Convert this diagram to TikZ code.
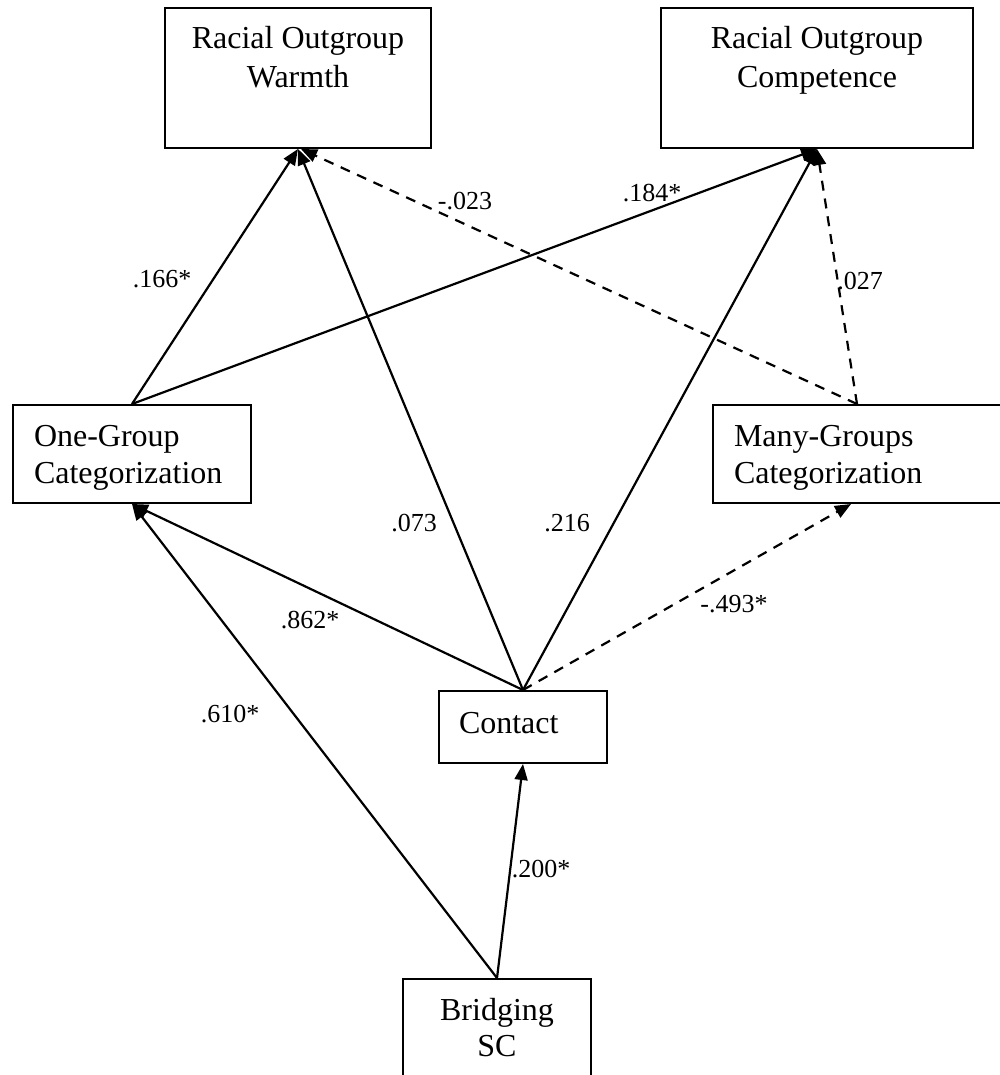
\documentclass[tikz,border=0pt]{standalone}
\usepackage{fontspec}
\setmainfont{Liberation Serif}
\usetikzlibrary{arrows.meta,calc}
\newcommand{\boxfont}{\fontsize{16}{18.5}\selectfont}
\newcommand{\tallfont}{\fontsize{16}{19.5}\selectfont}
\newcommand{\coeffont}{\fontsize{13}{15}\selectfont}

\begin{document}
\begin{tikzpicture}[x=0.5pt, y=-0.5pt,
  var/.style={draw, line width=1pt, anchor=north west, inner sep=0pt, font=\boxfont},
  cvar/.style={var, align=flush center},
  lvar/.style={var, align=flush left, inner xsep=10.5pt},
  effect/.style={-{Triangle[length=8pt,width=6.5pt]}, line width=1.1pt},
  neffect/.style={effect, dash pattern=on 5pt off 4pt},
  coef/.style={font=\coeffont, inner sep=0pt}]
  \useasboundingbox (0,0) rectangle (1000,1075);

  % Outcome boxes
  \node[cvar, font=\tallfont, text width=133pt, text height=20.5pt, text depth=49.5pt]
    (war) at (164,7) {Racial Outgroup\\Warmth};
  \node[cvar, font=\tallfont, text width=156pt, text height=20.5pt, text depth=49.5pt]
    (comp) at (660,7) {Racial Outgroup\\Competence};

  % Mediators
  \node[lvar, text width=98pt, text height=20.5pt, text depth=28.5pt]
    (ogc) at (12,404) {One-Group\\Categorization};
  \node[lvar, text width=123pt, text height=20.5pt, text depth=28.5pt]
    (mgc) at (712,404) {Many-Groups\\Categorization};
  \node[lvar, inner xsep=10pt, text width=64pt, text height=21pt, text depth=15pt]
    (con) at (438,690) {Contact};

  % Predictor
  \node[cvar, font=\fontsize{16}{18}\selectfont, text width=94pt, text height=20.5pt, text depth=40.5pt]
    (bsc) at (402,978) {Bridging\\SC};

  % Paths
  \draw[effect] (ogc.north) -- (war.south);
  \draw[effect] (ogc.north) -- (comp.south);
  \draw[effect] (con.north) -- (war.south);
  \draw[effect] (con.north) -- (comp.south);
  \draw[effect] (con.north) -- (ogc.south);
  \draw[neffect] (con.north) -- ([xshift=-3pt]mgc.south);
  \draw[neffect] (mgc.north) -- ([xshift=1.5pt]war.south);
  \draw[neffect] (mgc.north) -- (comp.south);
  \draw[effect] (bsc.north) -- (con.south);
  \draw[effect] (bsc.north) -- (ogc.south);

  % Coefficients
  \node[coef] (cOgWar) at (162,279) {.166*};
  \node[coef] (cMgWar) at (465,201) {-.023};
  \node[coef] (cOgComp) at (652,193) {.184*};
  \node[coef] (cMgComp) at (860,281) {.027};
  \node[coef] (cConWar) at (414,523) {.073};
  \node[coef] (cConComp) at (567,523) {.216};
  \node[coef] (cConOg) at (310,620) {.862*};
  \node[coef] (cConMg) at (734,604) {-.493*};
  \node[coef] (cBscOg) at (230,714) {.610*};
  \node[coef] (cBscCon) at (541,869) {.200*};
\end{tikzpicture}
\end{document}
